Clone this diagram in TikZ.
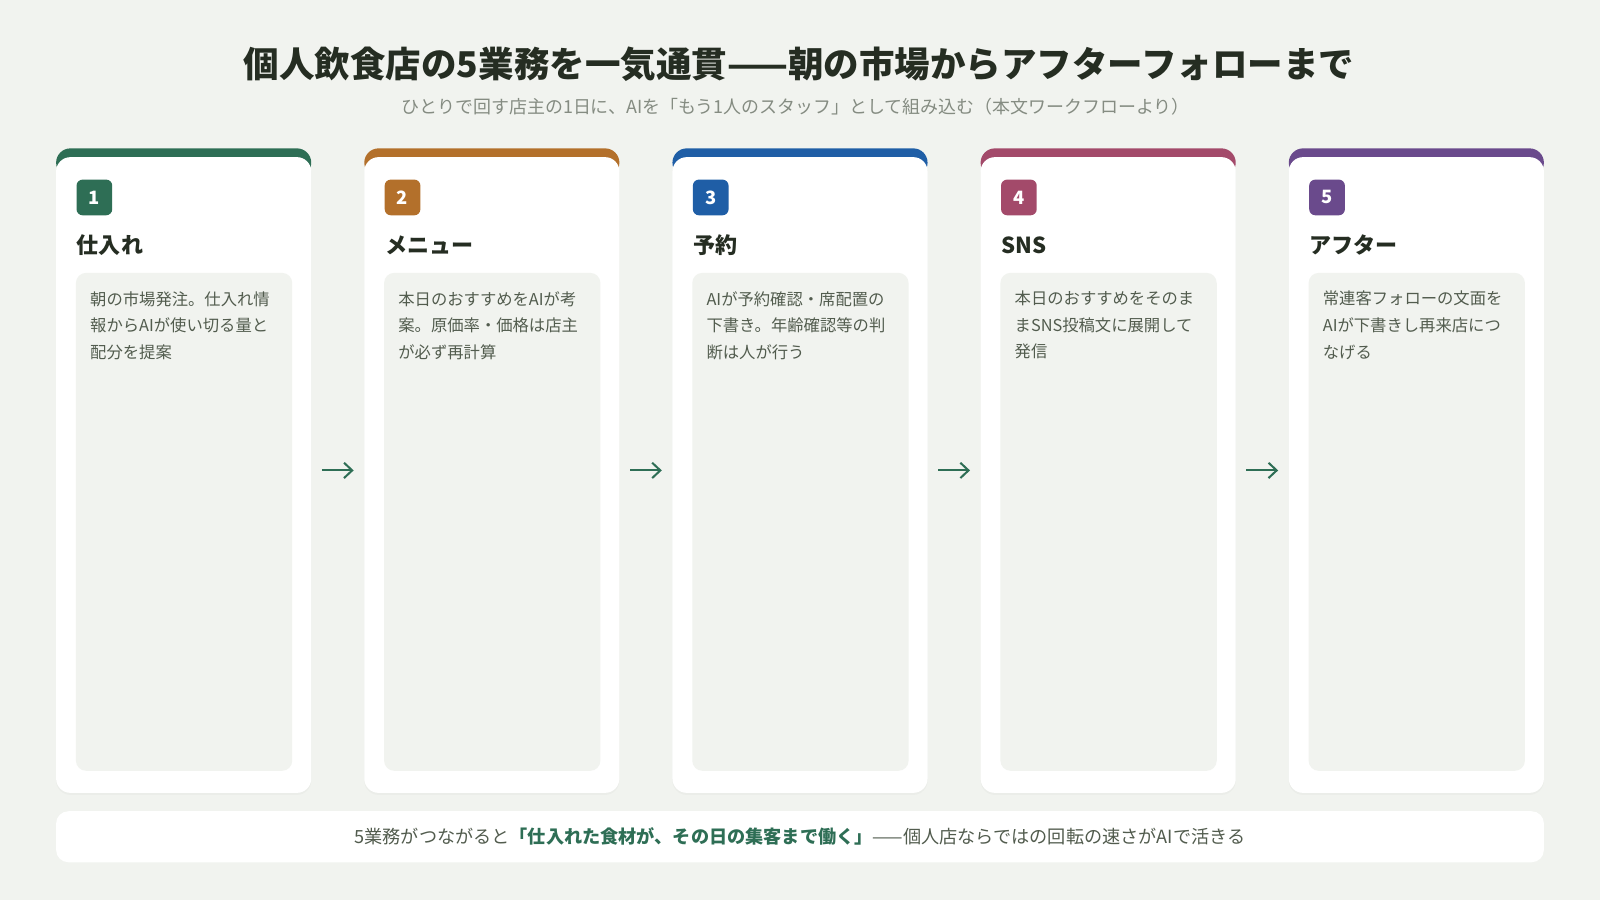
\documentclass[tikz,border=0pt]{standalone}
\usepackage{fontspec}
\setmainfont{Noto Sans CJK JP}
\newfontfamily\heavy{Noto Sans CJK JP Black}
\usetikzlibrary{positioning,shadows,arrows.meta}

\definecolor{paper}{HTML}{F1F3EF}
\definecolor{ink}{HTML}{252D22}
\definecolor{subink}{HTML}{858C82}
\definecolor{bodyink}{HTML}{525C4E}
\definecolor{shiire}{HTML}{2E6E55}
\definecolor{menu}{HTML}{B3702B}
\definecolor{yoyaku}{HTML}{1F5EA6}
\definecolor{sns}{HTML}{A34A6A}
\definecolor{after}{HTML}{6A4A8C}

\begin{document}
\begin{tikzpicture}[x=0.5pt,y=-0.5pt,
    card/.style={fill=white, rounded corners=7pt, minimum width=125pt, minimum height=311.5pt,
      drop shadow={shadow xshift=0pt, shadow yshift=-1pt, opacity=0.05}},
    band/.style={rounded corners=7pt, minimum width=125pt, minimum height=14pt, anchor=north},
    badge/.style={rounded corners=3pt, minimum size=17.5pt, inner sep=0pt, text=white,
      font=\heavy\fontsize{9}{9}\selectfont},
    head/.style={anchor=west, inner sep=0pt, text=ink, font=\heavy\fontsize{10.8}{12}\selectfont},
    panel/.style={fill=paper, rounded corners=5pt, minimum width=106pt, minimum height=244pt,
      anchor=north west},
    body/.style={anchor=north west, align=left, inner sep=0pt, text=bodyink,
      font=\fontsize{8}{13}\selectfont},
    flow/.style={-{Straight Barb[length=4pt,width=7.5pt]}, line width=1pt, shiire,
      shorten >=5pt, shorten <=5pt}
    ]
    \fill[paper] (0,0) rectangle (1568,882);

    % title
    \node[text=ink, font=\heavy\fontsize{17.4}{20}\selectfont] (title) at (783,63)
      {個人飲食店の5業務を一気通貫——朝の市場からアフターフォローまで};
    \node[text=subink, font=\fontsize{8.8}{10}\selectfont] (subtitle) at (780,105)
      {ひとりで回す店主の1日に、AIを「もう1人のスタッフ」として組み込む（本文ワークフローより）};

    % step 1
    \node[band, fill=shiire] (band1) at (180,145) {};
    \node[card] (card1) at (180,465.5) {};
    \node[badge, fill=shiire] (badge1) at (92.5,193.5) {1};
    \node[head] (head1) at (75,240) {仕入れ};
    \node[panel] (panel1) at (74,267) {};
    \node[body] (body1) at (88,285) {朝の市場発注。仕入れ情\\報からAIが使い切る量と\\配分を提案};

    % step 2
    \node[band, fill=menu] (band2) at (482,145) {};
    \node[card] (card2) at (482,465.5) {};
    \node[badge, fill=menu] (badge2) at (394.5,193.5) {2};
    \node[head] (head2) at (377,240) {メニュー};
    \node[panel] (panel2) at (376,267) {};
    \node[body] (body2) at (390,285) {本日のおすすめをAIが考\\案。原価率・価格は店主\\が必ず再計算};

    % step 3
    \node[band, fill=yoyaku] (band3) at (784,145) {};
    \node[card] (card3) at (784,465.5) {};
    \node[badge, fill=yoyaku] (badge3) at (696.5,193.5) {3};
    \node[head] (head3) at (679,240) {予約};
    \node[panel] (panel3) at (678,267) {};
    \node[body] (body3) at (692,285) {AIが予約確認・席配置の\\下書き。年齢確認等の判\\断は人が行う};

    % step 4
    \node[band, fill=sns] (band4) at (1086,145) {};
    \node[card] (card4) at (1086,465.5) {};
    \node[badge, fill=sns] (badge4) at (998.5,193.5) {4};
    \node[head] (head4) at (981,240) {SNS};
    \node[panel] (panel4) at (980,267) {};
    \node[body] (body4) at (994,285) {本日のおすすめをそのま\\まSNS投稿文に展開して\\発信};

    % step 5
    \node[band, fill=after] (band5) at (1388,145) {};
    \node[card] (card5) at (1388,465.5) {};
    \node[badge, fill=after] (badge5) at (1300.5,193.5) {5};
    \node[head] (head5) at (1283,240) {アフター};
    \node[panel] (panel5) at (1282,267) {};
    \node[body] (body5) at (1296,285) {常連客フォローの文面を\\AIが下書きし再来店につ\\なげる};

    % arrows
    \draw[flow] ([yshift=2.25pt]card1.east) -- ([yshift=2.25pt]card2.west);
    \draw[flow] ([yshift=2.25pt]card2.east) -- ([yshift=2.25pt]card3.west);
    \draw[flow] ([yshift=2.25pt]card3.east) -- ([yshift=2.25pt]card4.west);
    \draw[flow] ([yshift=2.25pt]card4.east) -- ([yshift=2.25pt]card5.west);

    % summary
    \node[fill=white, rounded corners=6pt, minimum width=729pt, minimum height=25pt,
      text=bodyink, font=\fontsize{8.9}{10}\selectfont] (summary) at (784,820)
      {5業務がつながると\textcolor{shiire}{\bfseries「仕入れた食材が、その日の集客まで働く」}——個人店ならではの回転の速さがAIで活きる};
  \end{tikzpicture}
\end{document}
